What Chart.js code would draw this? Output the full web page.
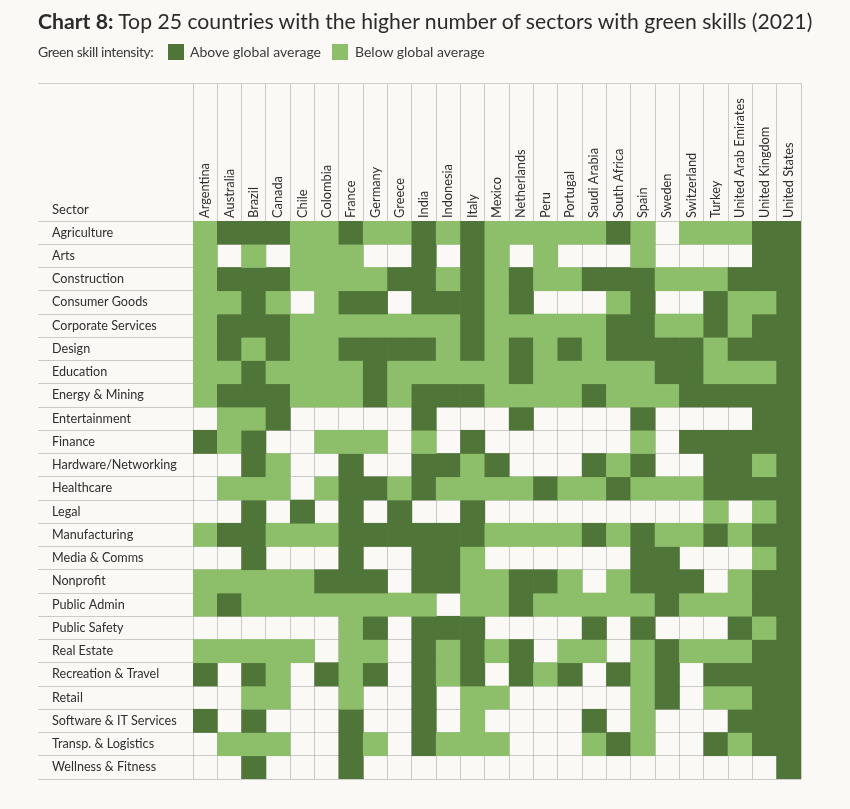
<!DOCTYPE html>
<html>
<head>
<meta charset="utf-8">
<script src="https://cdn.jsdelivr.net/npm/chart.js@4.4.1/dist/chart.umd.min.js"></script>
<style>
  html, body { margin: 0; padding: 0; background: #faf9f6; }
  #wrap { position: relative; width: 850px; height: 809px; overflow: hidden;
          font-family: Lato, "Noto Sans", sans-serif; color: #2e2e2e; }
  #chart { position: absolute; left: 0; top: 0; }
  #title { position: absolute; left: 38px; top: 8px; font-size: 21.2px; line-height: 27px; white-space: nowrap; color: #2b2b2b; }
  #title b { font-weight: 700; }
  .lg { position: absolute; top: 44px; font-size: 14px; line-height: 16px; white-space: nowrap; color: #3a3a3a; }
  .sw { position: absolute; top: 44px; width: 16px; height: 16px; }
  #topline { position: absolute; left: 38px; top: 83px; width: 763px; height: 1px; background: #cfcfcf; }
  #sector { position: absolute; left: 52px; top: 201px; font-size: 13px; line-height: 16px; color: #2e2e2e; }
</style>
</head>
<body>
<div id="wrap">
  <canvas id="chart" width="850" height="809"></canvas>
  <div id="title"><b>Chart 8:</b> Top 25 countries with the higher number of sectors with green skills (2021)</div>
  <span class="lg" style="left:38px;letter-spacing:-0.4px">Green skill intensity:</span>
  <span class="sw" style="left:168px;background:#507539"></span>
  <span class="lg" style="left:190px">Above global average</span>
  <span class="sw" style="left:332px;background:#8dbf6b"></span>
  <span class="lg" style="left:355px">Below global average</span>
  <div id="topline"></div>
  <div id="sector">Sector</div>
</div>
<script>
// 2 = above global average, 1 = below global average, 0 = no green skills
const countries = ["Argentina","Australia","Brazil","Canada","Chile","Colombia","France","Germany","Greece","India","Indonesia","Italy","Mexico","Netherlands","Peru","Portugal","Saudi Arabia","South Africa","Spain","Sweden","Switzerland","Turkey","United Arab Emirates","United Kingdom","United States"];
const sectors = ["Agriculture","Arts","Construction","Consumer Goods","Corporate Services","Design","Education","Energy & Mining","Entertainment","Finance","Hardware/Networking","Healthcare","Legal","Manufacturing","Media & Comms","Nonprofit","Public Admin","Public Safety","Real Estate","Recreation & Travel","Retail","Software & IT Services","Transp. & Logistics","Wellness & Fitness"];

const agriculture       = [1,2,2,2,1,1,2,1,1,2,1,2,1, 1,1,1,1,2,1,0,1,1,1,2,2];
const arts              = [1,0,1,0,1,1,1,0,0,2,0,2,1, 0,1,0,0,0,1,0,0,0,0,2,2];
const construction      = [1,2,2,2,1,1,1,1,2,2,1,2,1, 2,1,1,2,2,2,1,1,1,2,2,2];
const consumerGoods     = [1,1,2,1,0,1,2,2,0,2,2,2,1, 2,0,0,0,1,2,0,0,2,1,1,2];
const corporateServices = [1,2,2,2,1,1,1,1,1,1,1,2,1, 1,1,1,1,2,2,1,1,2,1,2,2];
const design            = [1,2,1,2,1,1,2,2,2,2,1,2,1, 2,1,2,1,2,2,2,2,1,2,2,2];
const education         = [1,1,2,1,1,1,1,2,1,1,1,1,1, 2,1,1,1,1,1,2,2,1,1,1,2];
const energyMining      = [1,2,2,2,1,1,1,2,1,2,2,2,1, 1,1,1,2,1,1,1,2,2,2,2,2];
const entertainment     = [0,1,1,2,0,0,0,0,0,2,0,0,0, 2,0,0,0,0,2,0,0,0,0,2,2];
const finance           = [2,1,2,0,0,1,1,1,0,1,0,2,0, 0,0,0,0,0,1,0,2,2,2,2,2];
const hardware          = [0,0,2,1,0,0,2,0,0,2,2,1,2, 0,0,0,2,1,2,0,0,2,2,1,2];
const healthcare        = [0,1,1,1,0,1,2,2,1,2,1,1,1, 1,2,1,1,2,1,1,1,2,2,2,2];
const legal             = [0,0,2,0,2,0,2,0,2,0,0,2,0, 0,0,0,0,0,0,0,0,1,0,1,2];
const manufacturing     = [1,2,2,1,1,1,2,2,2,2,2,2,1, 1,1,1,2,1,2,1,1,2,1,2,2];
const mediaComms        = [0,0,2,0,0,0,2,0,0,2,2,1,0, 0,0,0,0,0,2,2,0,0,0,1,2];
const nonprofit         = [1,1,1,1,1,2,2,2,0,2,2,1,1, 2,2,1,0,1,2,2,2,0,1,2,2];
const publicAdmin       = [1,2,1,1,1,1,1,1,1,1,0,1,1, 2,1,1,1,1,1,2,1,1,1,2,2];
const publicSafety      = [0,0,0,0,0,0,1,2,0,2,2,2,0, 0,0,0,2,0,2,0,0,0,2,1,2];
const realEstate        = [1,1,1,1,1,0,1,1,0,2,1,2,1, 2,0,1,1,0,1,2,1,1,1,2,2];
const recreation        = [2,0,2,1,0,2,1,2,0,2,1,2,0, 2,1,2,0,2,1,2,0,2,2,2,2];
const retail            = [0,0,1,1,0,0,1,0,0,2,0,1,1, 0,0,0,0,0,1,2,0,1,1,2,2];
const software          = [2,0,2,0,0,0,2,0,0,2,0,1,0, 0,0,0,2,0,1,0,0,0,2,2,2];
const transport         = [0,1,1,1,0,0,2,1,0,2,1,1,1, 0,0,0,1,2,1,0,0,2,1,2,2];
const wellness          = [0,0,2,0,0,0,2,0,0,0,0,0,0, 0,0,0,0,0,0,0,0,0,0,0,2];

const sectorValues = [agriculture, arts, construction, consumerGoods, corporateServices, design, education,
  energyMining, entertainment, finance, hardware, healthcare, legal, manufacturing, mediaComms, nonprofit,
  publicAdmin, publicSafety, realEstate, recreation, retail, software, transport, wellness];

const levelColors = ['rgba(0,0,0,0)', '#8dbf6b', '#507539'];
const FONT = 'Lato, "Noto Sans", sans-serif';
const GRID = 'rgba(110,110,110,0.33)';

const datasets = sectorValues.map((vals, i) => ({
  label: sectors[i],
  data: vals.map(() => 1),
  backgroundColor: vals.map(v => levelColors[v]),
  borderWidth: 0,
  barPercentage: 1,
  categoryPercentage: 1,
  stack: 'grid',
  xAxisID: 'x',
  yAxisID: 'y'
}));

new Chart(document.getElementById('chart'), {
  type: 'bar',
  data: { labels: countries, datasets },
  options: {
    responsive: false,
    animation: false,
    layout: { padding: { left: 52, top: 83, right: 49, bottom: 30 } },
    plugins: { legend: { display: false }, tooltip: { enabled: false }, title: { display: false } },
    scales: {
      x: {
        type: 'category', position: 'top', offset: true, stacked: true, z: 1,
        grid: { offset: true, color: GRID, lineWidth: 1, tickLength: 138, drawOnChartArea: true },
        border: { display: false },
        ticks: { minRotation: 90, maxRotation: 90, mirror: true, padding: -3, autoSkip: false,
                 color: '#2e2e2e', font: { family: FONT, size: 12.8 } },
        afterFit: s => { s.height = 138; }
      },
      y: { type: 'linear', display: false, stacked: true, min: 0, max: 24, reverse: true },
      ys: {
        type: 'category', labels: sectors, position: 'left', offset: true, z: 1,
        grid: { offset: true, color: GRID, lineWidth: 1, tickLength: 155, drawOnChartArea: true },
        border: { display: false },
        ticks: { crossAlign: 'far', padding: 0, autoSkip: false, color: '#2e2e2e', font: { family: FONT, size: 12.6 } },
        afterFit: s => { s.width = 141; }
      }
    }
  }
});
</script>
</body>
</html>
